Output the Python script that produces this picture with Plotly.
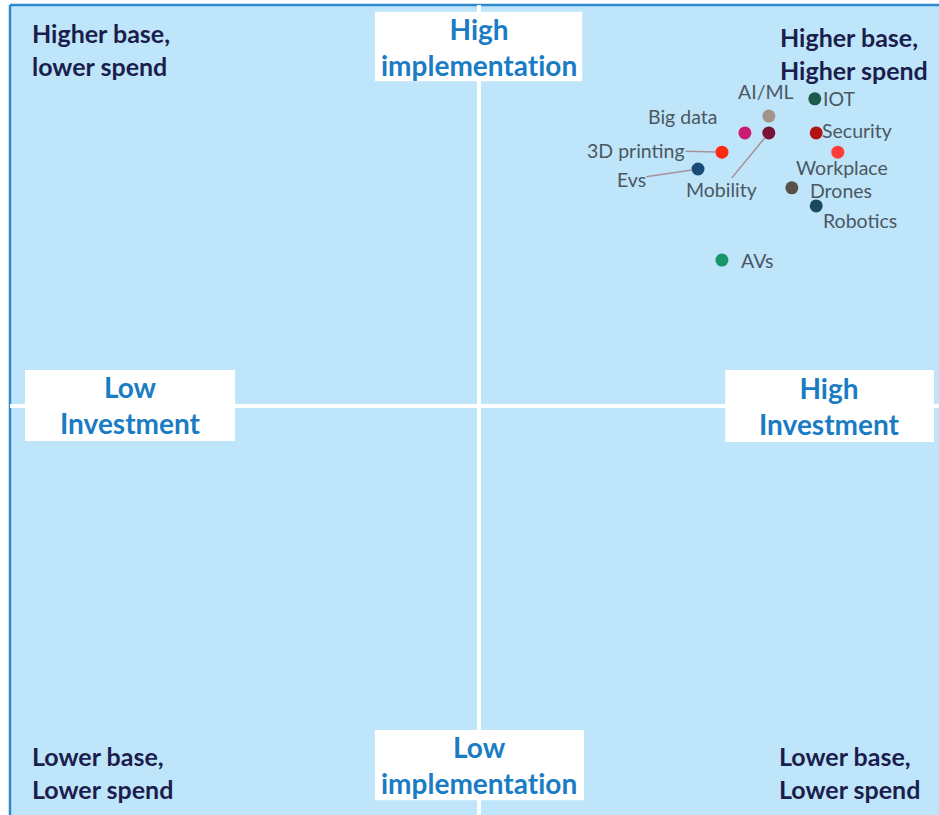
import plotly.graph_objects as go

# Technology positions: x = investment score, y = implementation score (centre = 0)
technologies = ["IOT", "AI/ML", "Big data", "Mobility", "Security", "Workplace",
                "3D printing", "Evs", "Drones", "Robotics", "AVs"]
investment = [7.16, 6.18, 5.67, 6.18, 7.19, 7.65, 5.18, 4.67, 6.67, 7.19, 5.18]
implementation = [7.66, 7.23, 6.81, 6.81, 6.81, 6.33, 6.33, 5.91, 5.44, 4.99, 3.64]
colors = ["#1d5a4b", "#a3948a", "#c91b72", "#7a1238", "#b01314", "#ff3c3c",
          "#ff2a12", "#1b4a78", "#595049", "#1a4a5c", "#17966a"]

# Quadrant and axis texts
axis_labels = ["High<br>implementation", "Low<br>implementation",
               "Low<br>Investment", "High<br>Investment"]
corner_labels = ["Higher base,<br>lower spend", "Higher base,<br>Higher spend",
                 "Lower base,<br>Lower spend", "Lower base,<br>Lower spend"]

BG = "#bfe5fa"
BORDER = "#2f88cc"
AXIS_TEXT = "#1a7cc4"
CORNER_TEXT = "#1b1e4d"
POINT_TEXT = "#4b5862"
FONT = "Lato"
NO_LIGA = "font-variant-ligatures:none;font-feature-settings:'liga' 0"


def plain_glyphs(s):
    """Wrap each line in a span that switches off ligatures (Lato joins 'ti')."""
    return "<br>".join(f"<span style=\"{NO_LIGA}\">{part}</span>" for part in s.split("<br>"))


fig = go.Figure()

fig.add_trace(go.Scatter(
    x=investment, y=implementation, mode="markers",
    marker=dict(size=13, color=colors, line=dict(width=0)),
    text=technologies, hoverinfo="text", showlegend=False,
))

# Panel background, frame and centre cross
shapes = [
    dict(type="rect", xref="x", yref="y", x0=-10, x1=11, y0=-11, y1=10,
         fillcolor=BG, line=dict(width=0), layer="below"),
    dict(type="line", xref="x", yref="y", x0=-10, x1=11, y0=10, y1=10,
         line=dict(color=BORDER, width=2.5), layer="below"),
    dict(type="line", xref="x", yref="y", x0=-10, x1=-10, y0=-11, y1=10,
         line=dict(color=BORDER, width=2.5), layer="below"),
    dict(type="line", xref="x", yref="y", x0=0, x1=0, y0=-11, y1=10,
         line=dict(color="white", width=4), layer="below"),
    dict(type="line", xref="x", yref="y", x0=-10, x1=11, y0=0, y1=0,
         line=dict(color="white", width=4), layer="below"),
]

annotations = []

# Axis-end boxes (white boxes with blue bold text)
axis_boxes = [(-2.22, 2.20, 8.10, 9.83), (-2.22, 2.24, -9.83, -8.08),
              (-9.68, -5.20, -0.87, 0.90), (5.25, 9.70, -0.90, 0.90)]
for txt, (x0, x1, y0, y1) in zip(axis_labels, axis_boxes):
    shapes.append(dict(type="rect", xref="x", yref="y", x0=x0, x1=x1, y0=y0, y1=y1,
                       fillcolor="white", line=dict(width=0), layer="below"))
    annotations.append(dict(
        x=(x0 + x1) / 2, y=(y0 + y1) / 2, xref="x", yref="y",
        text=f"<b>{plain_glyphs(txt)}</b>", showarrow=False, align="center",
        xanchor="center", yanchor="middle",
        font=dict(family=FONT, size=28, color=AXIS_TEXT),
    ))

# Corner captions
corner_pos = [(-9.57, 8.90), (6.37, 8.79), (-9.57, -9.15), (6.35, -9.15)]
for txt, (cx, cy) in zip(corner_labels, corner_pos):
    annotations.append(dict(
        x=cx, y=cy, xref="x", yref="y", text=f"<b>{txt}</b>", showarrow=False,
        xanchor="left", yanchor="middle", align="left",
        font=dict(family=FONT, size=25, color=CORNER_TEXT),
    ))

# Point labels: plain offsets, or leader lines for the crowded ones
plain = {
    "IOT": dict(xanchor="left", xshift=7, yshift=0),
    "AI/ML": dict(xanchor="center", xshift=-3, yshift=25),
    "Big data": dict(xanchor="center", xshift=-62, yshift=16),
    "Security": dict(xanchor="left", xshift=5, yshift=2),
    "Workplace": dict(xanchor="center", xshift=4, yshift=-15),
    "Drones": dict(xanchor="left", xshift=17, yshift=-3),
    "Robotics": dict(xanchor="left", xshift=6, yshift=-15),
    "AVs": dict(xanchor="left", xshift=18, yshift=0),
}
leader = {
    "3D printing": dict(ax=-86, ay=-2),
    "Evs": dict(ax=-67, ay=10),
    "Mobility": dict(ax=-47, ay=57),
}
for name, px, py in zip(technologies, investment, implementation):
    base = dict(x=px, y=py, xref="x", yref="y", text=name, borderpad=0,
                font=dict(family=FONT, size=19.5, color=POINT_TEXT))
    if name in plain:
        annotations.append(dict(base, showarrow=False, yanchor="middle", **plain[name]))
    else:
        annotations.append(dict(base, showarrow=True, arrowhead=0, arrowwidth=1.5,
                                arrowcolor="#a8929a", standoff=6, **leader[name]))

fig.update_layout(
    width=939, height=815,
    margin=dict(l=0, r=0, t=0, b=0),
    paper_bgcolor="white", plot_bgcolor="white",
    xaxis=dict(range=[-10.213, 9.808], visible=False, fixedrange=True),
    yaxis=dict(range=[-10.2, 10.125], visible=False, fixedrange=True),
    shapes=shapes, annotations=annotations,
)

fig.write_html("out.html")
